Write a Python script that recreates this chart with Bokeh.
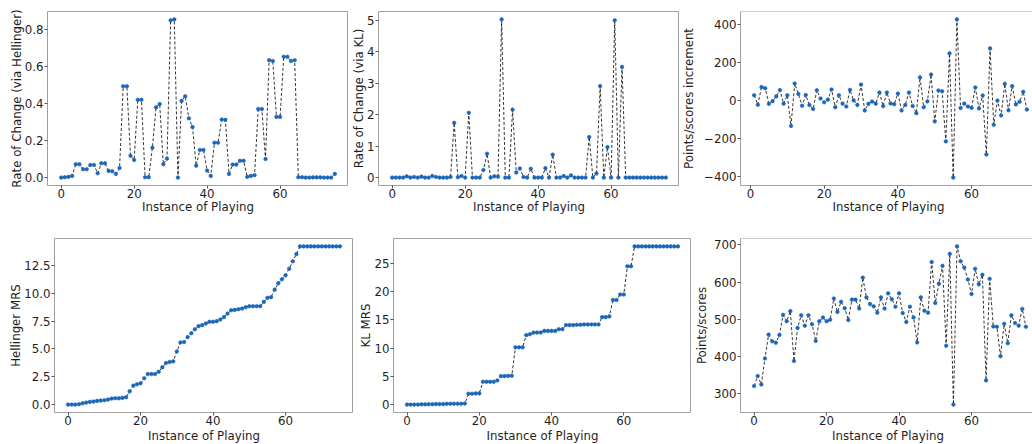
from bokeh.plotting import figure
from bokeh.layouts import column, row
from bokeh.models import Range1d, FixedTicker, PrintfTickFormatter, Span
from bokeh.embed import file_html
from bokeh.resources import INLINE

# ---------------- data ----------------
instances = list(range(76))
increment_instances = list(range(1, 76))

hellinger_rate = [0.0, 0.002, 0.004, 0.009, 0.072, 0.072, 0.045, 0.045, 0.068, 0.068,
                  0.023, 0.077, 0.077, 0.036, 0.034, 0.02, 0.052, 0.492, 0.492, 0.118,
                  0.095, 0.419, 0.419, 0.002, 0.002, 0.161, 0.378, 0.396, 0.072, 0.102,
                  0.847, 0.852, 0.0, 0.413, 0.438, 0.319, 0.272, 0.064, 0.149, 0.149,
                  0.038, 0.009, 0.188, 0.188, 0.313, 0.311, 0.02, 0.07, 0.07, 0.091,
                  0.091, 0.004, 0.009, 0.013, 0.369, 0.369, 0.1, 0.632, 0.628, 0.327,
                  0.327, 0.651, 0.651, 0.628, 0.632, 0.002, 0.002, 0.0, 0.0, 0.001,
                  0.001, 0.001, 0.0, 0.0, 0.0, 0.02]

kl_rate = [0, 0, 0, 0, 0.04, 0, 0.02, 0, 0.03, 0,
           0, 0.05, 0.02, 0, 0, 0, 0.02, 1.74, 0.01, 0.05,
           0, 2.06, 0, 0, 0, 0.24, 0.76, 0, 0.04, 0.03,
           5.03, 0, 0, 2.16, 0.16, 0.29, 0.02, 0, 0.28, 0,
           0, 0, 0.3, 0, 0.73, 0, 0, 0.05, 0, 0.07,
           0, 0, 0, 0, 1.29, 0, 0.13, 2.91, 0, 0.97,
           0, 5.0, 0, 3.52, 0, 0, 0, 0, 0, 0,
           0, 0, 0, 0, 0, 0]

score_increment = [27, -23, 70, 64, -18, -4, 21, 54, -17, 27,
                   -134, 89, 34, -28, 28, -24, -45, 53, 10, -10,
                   4, 57, -36, 27, -17, -32, 55, 0, -24, 83,
                   -53, -18, -6, -17, 41, -30, 41, -16, -20, 36,
                   -53, -24, 41, -29, -67, 121, -36, -5, 136, -110,
                   52, 48, -215, 247, -405, 425, -40, -17, -32, -39,
                   68, -42, 26, -284, 273, -128, -1, -79, 87, -52,
                   75, -21, -7, 45, -48]

hellinger_mrs = [0, 0, 0, 0.03, 0.12, 0.18, 0.24, 0.27, 0.33, 0.36,
                 0.39, 0.45, 0.54, 0.57, 0.57, 0.6, 0.66, 1.19, 1.7, 1.82,
                 1.91, 2.36, 2.74, 2.74, 2.74, 2.95, 3.34, 3.73, 3.82, 3.88,
                 4.77, 5.58, 5.61, 6.06, 6.41, 6.77, 7.04, 7.13, 7.28, 7.43,
                 7.43, 7.49, 7.64, 7.85, 8.17, 8.47, 8.5, 8.56, 8.62, 8.74,
                 8.83, 8.83, 8.83, 8.83, 9.22, 9.58, 9.64, 10.32, 10.89, 11.25,
                 11.6, 12.2, 12.86, 13.51, 14.2, 14.2, 14.2, 14.2, 14.2, 14.2,
                 14.2, 14.2, 14.2, 14.2, 14.2, 14.2]

kl_mrs = [0, 0, 0, 0, 0.04, 0.04, 0.06, 0.06, 0.09, 0.09,
          0.09, 0.14, 0.16, 0.16, 0.16, 0.16, 0.18, 1.92, 1.93, 1.98,
          1.98, 4.04, 4.04, 4.04, 4.04, 4.28, 5.04, 5.04, 5.08, 5.11,
          10.14, 10.14, 10.14, 12.3, 12.46, 12.75, 12.77, 12.77, 13.05, 13.05,
          13.05, 13.05, 13.35, 13.35, 14.08, 14.08, 14.08, 14.13, 14.13, 14.2,
          14.2, 14.2, 14.2, 14.2, 15.49, 15.49, 15.62, 18.53, 18.53, 19.5,
          19.5, 24.5, 24.5, 28.02, 28.02, 28.02, 28.02, 28.02, 28.02, 28.02,
          28.02, 28.02, 28.02, 28.02, 28.02, 28.02]

scores = [321, 348, 325, 395, 459, 441, 437, 458, 512, 495,
          522, 388, 477, 511, 483, 511, 487, 442, 495, 505,
          495, 499, 556, 520, 547, 530, 498, 553, 553, 529,
          612, 559, 541, 535, 518, 559, 529, 570, 554, 534,
          570, 517, 493, 534, 505, 438, 559, 523, 518, 654,
          544, 596, 644, 429, 676, 271, 696, 656, 639, 607,
          568, 636, 594, 620, 336, 609, 481, 480, 401, 488,
          436, 511, 490, 483, 528, 480]

x_ticks = [0, 20, 40, 60]
hellinger_rate_ticks = [0.0, 0.2, 0.4, 0.6, 0.8]
kl_rate_ticks = [0, 1, 2, 3, 4, 5]
increment_ticks = [-400, -200, 0, 200, 400]
increment_tick_labels = {-400: "\u2212400", -200: "\u2212200", 0: "0", 200: "200", 400: "400"}
hellinger_mrs_ticks = [0.0, 2.5, 5.0, 7.5, 10.0, 12.5]
kl_mrs_ticks = [0, 5, 10, 15, 20, 25]
score_ticks = [300, 400, 500, 600, 700]

x_label = "Instance of Playing"

# ---------------- styling ----------------
FONT = "DejaVu Sans"
FS = "11.8px"
DOT = "#1a66b8"
FRAME = "#a0a0a0"
TXT = "#1e1e1e"


def make(x, y, xr, yr, yticks, ylabel, fw, fh, mbl, mbt, mbb,
         fmt=None, overrides=None, open_right=False, ylab_standoff=2, xlab_standoff=0):
    p = figure(frame_width=fw, frame_height=fh,
               x_range=Range1d(*xr), y_range=Range1d(*yr),
               output_backend="svg", toolbar_location=None,
               min_border_left=mbl, min_border_right=0,
               min_border_top=mbt, min_border_bottom=mbb)
    p.background_fill_color = "white"
    p.border_fill_color = "white"
    p.xgrid.visible = False
    p.ygrid.visible = False
    p.line(x, y, line_color="black", line_width=0.8, line_dash="3 2")
    p.scatter(x, y, size=3.6, fill_color=DOT, line_color=DOT, line_width=0.6)

    for ax in (p.xaxis[0], p.yaxis[0]):
        ax.major_label_text_font = FONT
        ax.major_label_text_font_size = FS
        ax.major_label_text_color = TXT
        ax.axis_label_text_font = FONT
        ax.axis_label_text_font_size = FS
        ax.axis_label_text_font_style = "normal"
        ax.axis_label_text_color = TXT
        ax.minor_tick_line_color = None
        ax.major_tick_in = 0
        ax.major_tick_out = 3
        ax.major_tick_line_color = "#555555"
        ax.major_label_standoff = 1
        ax.axis_line_color = FRAME if open_right else None

    p.xaxis[0].ticker = FixedTicker(ticks=x_ticks)
    p.xaxis[0].axis_label = x_label
    p.xaxis[0].major_label_standoff = 0
    p.xaxis[0].axis_label_standoff = xlab_standoff
    p.yaxis[0].ticker = FixedTicker(ticks=yticks)
    p.yaxis[0].axis_label = ylabel
    p.yaxis[0].axis_label_standoff = ylab_standoff
    if fmt:
        p.yaxis[0].formatter = PrintfTickFormatter(format=fmt)
    if overrides:
        p.yaxis[0].major_label_overrides = overrides

    if open_right:
        p.outline_line_color = None
        p.add_layout(Span(location=yr[1], dimension="width", line_color=FRAME, line_width=1))
    else:
        p.outline_line_color = FRAME
        p.outline_line_width = 1
    return p


def pad(vals, frac=0.05):
    lo, hi = min(vals), max(vals)
    m = (hi - lo) * frac
    return (lo - m, hi + m)


FH = 174
# top row
f1 = make(instances, hellinger_rate, (-3.75, 78.75), pad(hellinger_rate), hellinger_rate_ticks,
          "Rate of Change (via Hellinger)", 301, FH, 47, 11, 43, fmt="%.1f",
          ylab_standoff=-2, xlab_standoff=-1)
f2 = make(instances, kl_rate, (-3.75, 78.75), pad(kl_rate), kl_rate_ticks,
          "Rate of Change (via KL)", 301, FH, 30, 11, 43, ylab_standoff=-2, xlab_standoff=-1)
f3 = make(increment_instances, score_increment, (-2.7, 77.6), pad(score_increment), increment_ticks,
          "Points/scores increment", 296, FH, 57, 11, 43, overrides=increment_tick_labels,
          open_right=True, ylab_standoff=5, xlab_standoff=-1)
# bottom row
f4 = make(instances, hellinger_mrs, (-3.75, 78.75), pad(hellinger_mrs), hellinger_mrs_ticks,
          "Hellinger MRS", 299, FH, 54, 10, 32, fmt="%.1f", ylab_standoff=-2, xlab_standoff=1)
f5 = make(instances, kl_mrs, (-3.75, 78.75), pad(kl_mrs), kl_mrs_ticks,
          "KL MRS", 298, FH, 40, 10, 32, ylab_standoff=-2, xlab_standoff=1)
f6 = make(instances, scores, (-3.75, 77.65), pad(scores), score_ticks,
          "Points/scores", 295, FH, 46, 10, 32, open_right=True, ylab_standoff=2, xlab_standoff=1)

layout = column(row(f1, f2, f3, spacing=0), row(f4, f5, f6, spacing=0), spacing=0)

open("out.html", "w").write(file_html(layout, INLINE))
